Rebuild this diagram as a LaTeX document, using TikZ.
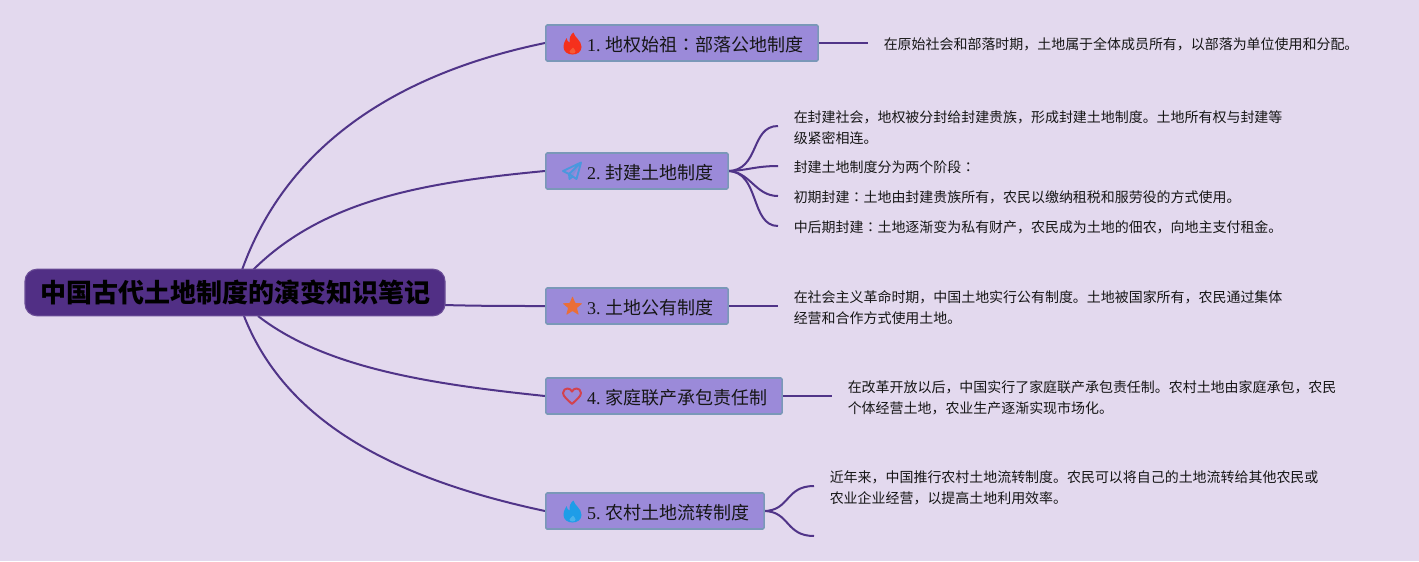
\documentclass[tikz,border=0pt]{standalone}
\usepackage{fontspec}
\setmainfont{Liberation Serif}
\newfontfamily\cjk{Noto Sans CJK SC}
\newfontfamily\cjkjp{Noto Sans CJK JP}
\newcommand{\cln}{{\cjkjp ：}}
\definecolor{bgc}{HTML}{E3D9EE}
\definecolor{rootc}{HTML}{512F85}
\definecolor{boxc}{HTML}{9B8AD9}
\definecolor{boxe}{HTML}{7A98B8}
\definecolor{linkc}{HTML}{503488}
\definecolor{txtc}{HTML}{161616}
\definecolor{flamer}{HTML}{F5301C}
\definecolor{flameri}{HTML}{F65A36}
\definecolor{flameb}{HTML}{1E9DE8}
\definecolor{flamebi}{HTML}{4AB2EC}
\definecolor{planec}{HTML}{4A98DE}
\definecolor{starc}{HTML}{EA6E38}
\definecolor{heartc}{HTML}{D2424E}
\tikzset{
  x=0.75pt,y=-0.75pt,
  rootbox/.style={draw=rootc!85!white,line width=0.8pt,fill=rootc,rounded corners=9pt,minimum width=315pt,minimum height=35pt,inner sep=0pt,text=black,font=\fontsize{19.5pt}{23pt}\selectfont\cjk\bfseries},
  branchbox/.style={draw=boxe,line width=1.2pt,fill=boxc,rounded corners=1pt,minimum height=27pt,inner sep=0pt,anchor=west,text=txtc,text height=14pt,text depth=2pt,font=\fontsize{13.5pt}{16pt}\selectfont},
  leaftext/.style={anchor=west,align=left,inner sep=0pt,text=txtc,font=\fontsize{10.47pt}{15.75pt}\selectfont\cjk},
  linkmain/.style={draw=linkc,line width=1.5pt},
  linkleaf/.style={draw=linkc,line width=1.5pt},
  pics/flame/.style n args={2}{code={
    \fill[#1] (1,-11) .. controls (2,-6) and (9,-3) .. (9,3.5) .. controls (9,8) and (5,11) .. (0,11) .. controls (-5,11) and (-9,8) .. (-9,3.5) .. controls (-9,-1) and (-7,-3) .. (-6,-5.5) .. controls (-5.5,-3) and (-4.5,-1.5) .. (-3,-1) .. controls (-3.5,-5) and (-2,-9) .. (1,-11) -- cycle;
    \fill[#2] (0.5,4) .. controls (1,5.5) and (3,6) .. (3,8) .. controls (3,9.5) and (1.5,10) .. (0,10) .. controls (-1.5,10) and (-3,9.5) .. (-3,8) .. controls (-3,6.5) and (-0.5,6) .. (0.5,4) -- cycle;
  }},
}
\begin{document}
\begin{tikzpicture}
\useasboundingbox (0,0) rectangle (1419,561);
\fill[bgc] (0,0) rectangle (1419,561);

% free ends and tree anchors
\coordinate (r1) at (242,270);
\coordinate (r2) at (253,270);
\coordinate (r3) at (444,305);
\coordinate (r4) at (258,316);
\coordinate (r5) at (244,316);
\coordinate (e1) at (868,43);
\coordinate (e2a) at (778,126);
\coordinate (e2b) at (778,166);
\coordinate (e2c) at (778,196);
\coordinate (e2d) at (778,226);
\coordinate (e3) at (778,306);
\coordinate (e4) at (832,396);
\coordinate (e5a) at (814,486);
\coordinate (e5b) at (814,536);

\coordinate (b1w) at (545,43);
\coordinate (b2w) at (545,171);
\coordinate (b3w) at (545,306);
\coordinate (b4w) at (545,396);
\coordinate (b5w) at (545,511);
\coordinate (b1e) at (817.5,43);
\coordinate (b2e) at (727.5,171);
\coordinate (b3e) at (727.5,306);
\coordinate (b4e) at (781.5,396);
\coordinate (b5e) at (763.5,511);

\path[linkmain] (r1) .. controls (285,150) and (390,75) .. (b1w);
\path[linkmain] (r2) .. controls (325,198) and (430,182) .. (b2w);
\path[linkmain] (r3) .. controls (480,306) and (510,306) .. (b3w);
\path[linkmain] (r4) .. controls (325,368) and (430,384) .. (b4w);
\path[linkmain] (r5) .. controls (285,420) and (390,478) .. (b5w);

\path[linkleaf] (b1e) -- (e1);
\path[linkleaf] (b2e) .. controls (760,171) and (750,126) .. (e2a);
\path[linkleaf] (b2e) .. controls (745,171) and (755,166) .. (e2b);
\path[linkleaf] (b2e) .. controls (750,171) and (755,196) .. (e2c);
\path[linkleaf] (b2e) .. controls (760,171) and (750,226) .. (e2d);
\path[linkleaf] (b3e) -- (e3);
\path[linkleaf] (b4e) -- (e4);
\path[linkleaf] (b5e) .. controls (790,511) and (785,486) .. (e5a);
\path[linkleaf] (b5e) .. controls (790,511) and (785,536) .. (e5b);

% root
\node[rootbox] (root) at (235,292.5) {中国古代土地制度的演变知识笔记};

% branches
\node[branchbox,minimum width=204.2pt,text width=204.2pt] (b1) at (b1w) {\hspace*{31.0pt}1.\hspace{3.8pt}{\cjk 地权始祖\cln 部落公地制度}};
\node[branchbox,minimum width=136.7pt,text width=136.7pt] (b2) at (b2w) {\hspace*{31.0pt}2.\hspace{3.8pt}{\cjk 封建土地制度}};
\node[branchbox,minimum width=136.7pt,text width=136.7pt] (b3) at (b3w) {\hspace*{31.0pt}3.\hspace{3.8pt}{\cjk 土地公有制度}};
\node[branchbox,minimum width=177.2pt,text width=177.2pt] (b4) at (b4w) {\hspace*{31.0pt}4.\hspace{3.8pt}{\cjk 家庭联产承包责任制}};
\node[branchbox,minimum width=163.7pt,text width=163.7pt] (b5) at (b5w) {\hspace*{31.0pt}5.\hspace{3.8pt}{\cjk 农村土地流转制度}};

% leaves
\node[leaftext] (l1) at (883.5,44) {在原始社会和部落时期，土地属于全体成员所有，以部落为单位使用和分配。};
\node[leaftext] (l2a) at (793.5,127.5) {在封建社会，地权被分封给封建贵族，形成封建土地制度。土地所有权与封建等\\级紧密相连。};
\node[leaftext] (l2b) at (793.5,167) {封建土地制度分为两个阶段\cln};
\node[leaftext] (l2c) at (793.5,197) {初期封建\cln 土地由封建贵族所有，农民以缴纳租税和服劳役的方式使用。};
\node[leaftext] (l2d) at (793.5,227) {中后期封建\cln 土地逐渐变为私有财产，农民成为土地的佃农，向地主支付租金。};
\node[leaftext] (l3) at (793.5,307.5) {在社会主义革命时期，中国土地实行公有制度。土地被国家所有，农民通过集体\\经营和合作方式使用土地。};
\node[leaftext] (l4) at (847.5,397.5) {在改革开放以后，中国实行了家庭联产承包责任制。农村土地由家庭承包，农民\\个体经营土地，农业生产逐渐实现市场化。};
\node[leaftext] (l5) at (829.5,487.5) {近年来，中国推行农村土地流转制度。农民可以将自己的土地流转给其他农民或\\农业企业经营，以提高土地利用效率。};

% icons
\pic at (572.5,43.5) {flame={flamer}{flameri}};
\begin{scope}[shift={(572,171)}]
  \draw[color=planec,line width=1.4pt,line join=round] (9,-8.5) -- (-9,0) -- (-3,3) -- (9,-8.5) -- (4.5,8) -- (-3,3) -- (-2.5,8) -- (1,5.2);
  \fill[planec,opacity=0.35] (9,-8.5) -- (-3,3) -- (-2.5,8) -- (1,5.2) -- cycle;
\end{scope}
\begin{scope}[shift={(572.5,306.5)}]
  \fill[starc,rounded corners=0.6pt] (0,-10.5)--(2.8,-3.4)--(10,-3.2)--(4.4,1.4)--(6.3,8.5)--(0,4.5)--(-6.3,8.5)--(-4.4,1.4)--(-10,-3.2)--(-2.8,-3.4)--cycle;
\end{scope}
\begin{scope}[shift={(572,396)}]
  \draw[color=heartc,line width=1.5pt,line join=round] (0,8) .. controls (-4,4) and (-9,0.5) .. (-9,-3) .. controls (-9,-6) and (-6.5,-7.5) .. (-4.5,-7.5) .. controls (-2.5,-7.5) and (-1,-6.5) .. (0,-4.5) .. controls (1,-6.5) and (2.5,-7.5) .. (4.5,-7.5) .. controls (6.5,-7.5) and (9,-6) .. (9,-3) .. controls (9,0.5) and (4,4) .. (0,8) -- cycle;
\end{scope}
\pic at (572.5,511.5) {flame={flameb}{flamebi}};
\end{tikzpicture}
\end{document}
